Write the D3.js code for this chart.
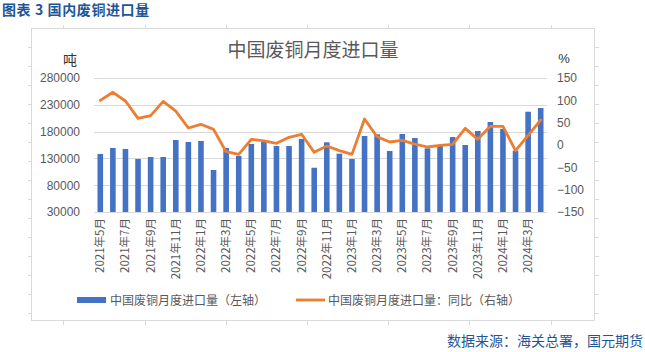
<!DOCTYPE html>
<html>
<head>
<meta charset="utf-8">
<script src="https://cdn.jsdelivr.net/npm/d3@7"></script>
<style>
  body { margin: 0; background: #fff; }
  svg text { font-family: "Liberation Sans", "Noto Sans CJK SC", sans-serif; }
</style>
</head>
<body>
<svg id="chart" width="645" height="352"></svg>
<script>
// months 2021-05 .. 2024-04
const months = [];
for (let i = 0; i < 36; i++) {
  const y = 2021 + Math.floor((4 + i) / 12);
  const m = (4 + i) % 12 + 1;
  months.push(y + "年" + m + "月");
}

// import volume, tonnes (left axis)
const volume = [
  138200, 149400, 147500, 128900, 132600, 132600, 164300, 160600, 162500, 108400,
  149400, 134500, 156900, 161000, 153100, 153100, 166200, 112600, 160000, 138800,
  128900, 171800, 175000, 143800, 175500, 168100, 148800, 155000, 169900, 155000,
  181100, 197900, 184900, 144400, 217100, 224000
];

// year-on-year change, % (right axis)
const yoy = [
  100, 118, 98.5, 59.7, 65.6, 97.8, 76, 38, 46.3, 35,
  -15, -21, 12.7, 9, 3.8, 17.2, 24, -16.4, -2.2, -12.7,
  -21, 58.2, 18.6, 6.7, 10.5, 2, -4.5, -0.7, 1.5, 37.3,
  12.7, 41.8, 41.8, -12.7, 21.7, 56
];

const leftTicks = [30000, 80000, 130000, 180000, 230000, 280000];
const rightTicks = [-150, -100, -50, 0, 50, 100, 150];

const svg = d3.select("#chart");

// frame of the chart object
svg.append("rect")
  .attr("x", 31.5).attr("y", 28.5)
  .attr("width", 563).attr("height", 292)
  .attr("fill", "none").attr("stroke", "#d9d9d9");

// faint sheet cell marks around the frame
const cellY = [47, 66, 85, 104, 123, 142, 161, 180, 199, 218, 237, 256, 275, 294, 313];
cellY.forEach(yy => {
  svg.append("line").attr("x1", 28).attr("x2", 31).attr("y1", yy + 0.5).attr("y2", yy + 0.5)
    .attr("stroke", "#d9d9d9");
  svg.append("line").attr("x1", 595).attr("x2", 599).attr("y1", yy + 0.5).attr("y2", yy + 0.5)
    .attr("stroke", "#d9d9d9");
});
[63, 145, 226, 307, 388, 469, 551].forEach(xx => {
  svg.append("line").attr("x1", xx + 0.5).attr("x2", xx + 0.5).attr("y1", 321).attr("y2", 325)
    .attr("stroke", "#d9d9d9");
  svg.append("line").attr("x1", xx + 0.5).attr("x2", xx + 0.5).attr("y1", 25).attr("y2", 28)
    .attr("stroke", "#d9d9d9");
});

// header and source
svg.append("text")
  .attr("x", 2).attr("y", 15)
  .attr("font-size", 14).attr("font-weight", "bold")
  .attr("fill", "#1f5597")
  .attr("letter-spacing", 0.6)
  .style("font-family", "'Noto Sans CJK SC', sans-serif")
  .text("图表 3 国内废铜进口量");

svg.append("text")
  .attr("x", 643).attr("y", 346)
  .attr("text-anchor", "end")
  .attr("font-size", 14)
  .attr("fill", "#1f5597")
  .style("font-family", "'Noto Sans CJK SC', sans-serif")
  .text("数据来源：海关总署，国元期货");

var margin = { left: 94, right: 547, top: 78, bottom: 212 };

var x = d3.scaleBand()
  .domain(months)
  .range([margin.left, margin.right]);

var yL = d3.scaleLinear().domain([30000, 280000]).range([margin.bottom, margin.top]);
var yR = d3.scaleLinear().domain([-150, 150]).range([margin.bottom, margin.top]);

// gridlines
svg.append("g")
  .selectAll("line")
  .data(leftTicks)
  .enter()
  .append("line")
  .attr("x1", margin.left).attr("x2", margin.right)
  .attr("y1", d => Math.round(yL(d)) + 0.5)
  .attr("y2", d => Math.round(yL(d)) + 0.5)
  .attr("stroke", "#d9d9d9");

// title
svg.append("text")
  .attr("x", 313).attr("y", 57)
  .attr("text-anchor", "middle")
  .attr("font-size", 19)
  .attr("fill", "#595959")
  .style("font-family", "'Noto Sans CJK SC', sans-serif")
  .text("中国废铜月度进口量");

// unit labels
svg.append("text").attr("x", 70).attr("y", 65).attr("text-anchor", "middle")
  .attr("font-size", 14).attr("fill", "#333")
  .style("font-family", "'Noto Sans CJK SC', sans-serif").text("吨");
svg.append("text").attr("x", 564).attr("y", 63).attr("text-anchor", "middle")
  .attr("font-size", 13).attr("fill", "#333").text("%");

// left axis
var gL = svg.append("g").attr("transform", `translate(${margin.left - 14},0)`)
  .call(d3.axisLeft(yL).tickValues(leftTicks).tickSize(0).tickPadding(0).tickFormat(d3.format("d")));
gL.select(".domain").remove();
gL.selectAll("text").attr("font-size", 12).attr("fill", "#595959")
  .style("font-family", "'Liberation Sans', sans-serif");

// right axis
var gR = svg.append("g").attr("transform", `translate(${margin.right + 10},0)`)
  .call(d3.axisRight(yR).tickValues(rightTicks).tickSize(0).tickPadding(0));
gR.select(".domain").remove();
gR.selectAll("text").attr("font-size", 12).attr("fill", "#595959")
  .style("font-family", "'Liberation Sans', sans-serif");

// bottom axis, every other month labelled
var gX = svg.append("g").attr("transform", `translate(0,${margin.bottom})`)
  .call(d3.axisBottom(x).tickValues(months.filter((d, i) => i % 2 === 0)).tickSize(0).tickPadding(0));
gX.select(".domain").remove();
gX.selectAll("text")
  .attr("transform", "rotate(-90)")
  .attr("x", -6).attr("y", 0).attr("dy", "0.35em")
  .style("text-anchor", "end")
  .attr("font-size", 11.5).attr("fill", "#595959")
  .style("font-family", "'Noto Sans CJK SC', sans-serif");

// bars
var barW = 5.6;
svg.append("g")
  .selectAll("rect")
  .data(volume)
  .enter()
  .append("rect")
  .attr("x", (d, i) => x(months[i]) + x.bandwidth() / 2 - barW / 2)
  .attr("y", d => yL(d))
  .attr("width", barW)
  .attr("height", d => margin.bottom - yL(d))
  .attr("fill", "#4472c4");

// yoy line
var line = d3.line()
  .x((d, i) => x(months[i]) + x.bandwidth() / 2)
  .y(d => yR(d));

svg.append("path")
  .datum(yoy)
  .attr("d", line)
  .attr("fill", "none")
  .attr("stroke", "#ed7d31")
  .attr("stroke-width", 2.8)
  .attr("stroke-linejoin", "round")
  .attr("stroke-linecap", "round");

// legend
var lg = svg.append("g").style("font-family", "'Noto Sans CJK SC', sans-serif");
lg.append("rect").attr("x", 77).attr("y", 297).attr("width", 29).attr("height", 6).attr("fill", "#4472c4");
lg.append("text").attr("x", 110).attr("y", 304.5).attr("font-size", 12).attr("fill", "#595959")
  .text("中国废铜月度进口量（左轴）");
lg.append("line").attr("x1", 296).attr("x2", 325).attr("y1", 300).attr("y2", 300)
  .attr("stroke", "#ed7d31").attr("stroke-width", 2.8);
lg.append("text").attr("x", 328).attr("y", 304.5).attr("font-size", 12).attr("fill", "#595959")
  .text("中国废铜月度进口量：同比（右轴）");
</script>
</body>
</html>
